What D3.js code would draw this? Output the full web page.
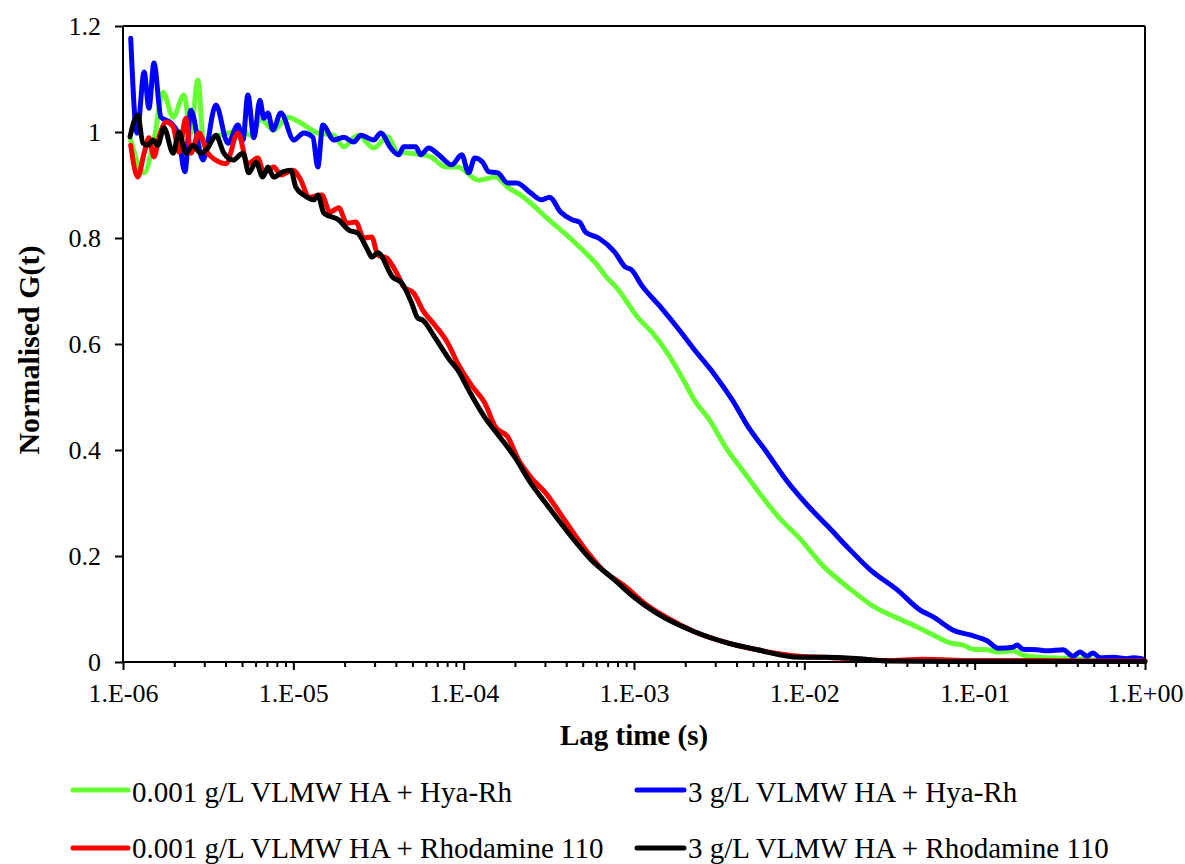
<!DOCTYPE html>
<html>
<head>
<meta charset="utf-8">
<script src="https://cdn.jsdelivr.net/npm/d3@7/dist/d3.min.js"></script>
<style>
  html, body { margin: 0; padding: 0; background: #fff; }
  svg { display: block; }
  svg text { font-family: 'Liberation Serif'; }
</style>
</head>
<body>
<svg id="chart" width="1185" height="864" font-family="Liberation Serif"></svg>
<script>
// ---------------- data ----------------
const seriesNames = [
  "0.001 g/L VLMW HA + Hya-Rh",
  "3 g/L VLMW HA + Hya-Rh",
  "0.001 g/L VLMW HA + Rhodamine 110",
  "3 g/L VLMW HA + Rhodamine 110"
];
const xTickValues = [1e-6, 1e-5, 1e-4, 1e-3, 1e-2, 1e-1, 1];
const xTickLabels = ["1.E-06", "1.E-05", "1.E-04", "1.E-03", "1.E-02", "1.E-01", "1.E+00"];
const yTickValues = [0, 0.2, 0.4, 0.6, 0.8, 1, 1.2];
const yTickLabels = ["0", "0.2", "0.4", "0.6", "0.8", "1", "1.2"];

// 0.001 g/L VLMW HA + Hya-Rh (green)
const greenLag = [1.11e-6,1.33e-6,1.52e-6,1.72e-6,1.97e-6,2.28e-6,2.50e-6,2.75e-6,2.99e-6,3.42e-6,4.13e-6,4.92e-6,5.63e-6,6.45e-6,7.68e-6,9.29e-6,
  1.107e-5,1.392e-5,1.728e-5,1.978e-5,2.389e-5,2.966e-5,3.584e-5,4.102e-5,4.888e-5,6.404e-5,7.843e-5,9.22e-5,
  1.225e-4,1.540e-4,1.812e-4,2.159e-4,2.472e-4,3.026e-4,3.912e-4,4.790e-4,5.196e-4,5.946e-4,6.899e-4,8.11e-4,8.916e-4,
  1.048e-3,1.284e-3,1.573e-3,1.952e-3,2.264e-3,2.773e-3,3.442e-3,4.448e-3,5.446e-3,7.039e-3,9.22e-3,
  1.310e-2,1.787e-2,2.574e-2,3.512e-2,4.60e-2,5.71e-2,7.18e-2,8.56e-2,9.80e-2,
  0.1184,0.1355,0.1682,0.1925,0.2422,0.3487,0.4955,0.7137,0.9603];
const greenG = [0.985,0.923,0.985,1.075,1.028,1.07,0.998,1.098,0.972,0.989,0.998,1.004,0.994,1.023,1.004,1.028,
  1.017,0.998,0.994,0.972,0.994,0.970,0.991,0.962,0.960,0.953,0.934,0.934,
  0.909,0.915,0.896,0.881,0.866,0.840,0.809,0.783,0.772,0.753,0.726,0.702,0.683,
  0.651,0.621,0.583,0.532,0.494,0.457,0.406,0.357,0.319,0.274,0.236,
  0.179,0.142,0.104,0.083,0.066,0.051,0.036,0.032,0.024,
  0.023,0.019,0.021,0.013,0.009,0.007,0.004,0.002,0.001];

// 3 g/L VLMW HA + Hya-Rh (blue)
const blueLag = [1.11e-6,1.21e-6,1.33e-6,1.42e-6,1.52e-6,1.67e-6,1.91e-6,2.10e-6,2.31e-6,2.50e-6,2.95e-6,3.51e-6,4.13e-6,4.73e-6,5.06e-6,5.41e-6,5.87e-6,6.36e-6,6.71e-6,7.09e-6,7.58e-6,8.45e-6,
  1.007e-5,1.152e-5,1.302e-5,1.392e-5,1.489e-5,1.728e-5,1.978e-5,2.263e-5,2.489e-5,2.966e-5,3.261e-5,3.731e-5,4.157e-5,4.447e-5,5.229e-5,5.595e-5,6.232e-5,7.135e-5,8.503e-5,9.734e-5,
  1.070e-4,1.160e-4,1.293e-4,1.402e-4,1.583e-4,1.812e-4,2.046e-4,2.472e-4,2.868e-4,3.195e-4,3.706e-4,4.358e-4,4.790e-4,5.196e-4,6.192e-4,7.683e-4,8.916e-4,9.667e-4,
  1.107e-3,1.430e-3,1.849e-3,2.264e-3,2.927e-3,3.782e-3,4.694e-3,6.067e-3,7.843e-3,
  1.070e-2,1.383e-2,1.787e-2,2.439e-2,3.512e-2,4.79e-2,5.71e-2,7.48e-2,9.41e-2,
  0.1184,0.1373,0.1682,0.1775,0.1925,0.2326,0.2663,0.3304,0.3782,0.4157,0.4569,0.4955,0.5447,0.6494,0.7844,0.8503,0.9603];
const blueG = [1.177,0.998,1.113,1.045,1.13,1.028,1.017,0.998,0.925,1.041,0.947,1.051,0.979,1.013,0.985,1.07,0.989,1.06,1.026,1.036,1.004,1.036,
  0.985,0.998,0.99,0.934,1.013,0.985,0.99,0.981,0.994,0.985,0.998,0.97,0.957,0.972,0.972,0.957,0.97,0.957,0.938,0.957,
  0.923,0.951,0.943,0.925,0.923,0.904,0.904,0.885,0.872,0.877,0.849,0.834,0.830,0.811,0.800,0.774,0.745,0.740,
  0.711,0.670,0.626,0.589,0.545,0.494,0.443,0.394,0.343,
  0.292,0.255,0.217,0.174,0.136,0.098,0.085,0.060,0.051,
  0.040,0.026,0.028,0.032,0.024,0.023,0.021,0.023,0.011,0.019,0.011,0.017,0.008,0.009,0.006,0.008,0.006];

// 0.001 g/L VLMW HA + Rhodamine 110 (red)
const redLag = [1.11e-6,1.22e-6,1.33e-6,1.42e-6,1.52e-6,1.63e-6,1.79e-6,1.97e-6,2.13e-6,2.34e-6,2.50e-6,2.79e-6,3.15e-6,3.51e-6,4.02e-6,4.73e-6,5.41e-6,6.19e-6,6.71e-6,7.68e-6,8.45e-6,9.93e-6,
  1.107e-5,1.233e-5,1.470e-5,1.637e-5,1.849e-5,2.060e-5,2.326e-5,2.591e-5,2.887e-5,3.131e-5,3.535e-5,4.046e-5,4.447e-5,5.091e-5,5.748e-5,6.761e-5,8.06e-5,9.22e-5,
  1.129e-4,1.328e-4,1.540e-4,1.812e-4,2.102e-4,2.472e-4,3.026e-4,3.912e-4,5.057e-4,6.535e-4,8.916e-4,
  1.152e-3,1.573e-3,2.264e-3,3.535e-3,5.30e-3,9.35e-3,
  1.328e-2,2.102e-2,2.987e-2,4.99e-2,0.1,0.25,0.5,1.0];
const redG = [0.975,0.915,0.96,0.989,0.953,0.991,1.019,1.01,0.962,1.026,0.960,0.998,0.96,0.947,0.94,0.998,0.94,0.951,0.923,0.934,0.919,0.928,
  0.909,0.877,0.881,0.849,0.857,0.828,0.830,0.800,0.802,0.768,0.762,0.734,0.708,0.696,0.664,0.636,0.602,0.564,
  0.519,0.489,0.443,0.425,0.381,0.349,0.319,0.268,0.217,0.174,0.142,
  0.111,0.083,0.057,0.036,0.023,0.011,
  0.009,0.005,0.003,0.005,0.003,0.003,0.002,0.002];

// 3 g/L VLMW HA + Rhodamine 110 (black)
const blackLag = [1.10e-6,1.22e-6,1.31e-6,1.40e-6,1.50e-6,1.60e-6,1.74e-6,1.97e-6,2.13e-6,2.34e-6,2.57e-6,2.87e-6,3.15e-6,3.51e-6,3.91e-6,4.42e-6,5.06e-6,5.48e-6,6.03e-6,6.62e-6,7.09e-6,7.68e-6,8.68e-6,9.67e-6,
  1.034e-5,1.152e-5,1.319e-5,1.392e-5,1.510e-5,1.849e-5,2.116e-5,2.389e-5,2.735e-5,2.887e-5,3.131e-5,3.833e-5,4.329e-5,4.955e-5,5.373e-5,5.748e-5,6.761e-5,8.28e-5,9.22e-5,
  1.070e-4,1.328e-4,1.626e-4,1.991e-4,2.472e-4,3.026e-4,4.129e-4,5.632e-4,7.683e-4,9.93e-4,
  1.355e-3,2.264e-3,3.535e-3,5.30e-3,9.35e-3,
  1.328e-2,2.102e-2,2.987e-2,7.18e-2,0.2422,1.0];
const blackG = [0.991,1.032,0.979,0.975,0.985,0.975,1.008,0.96,1.0,0.96,0.975,0.96,0.970,0.994,0.96,0.947,0.96,0.923,0.943,0.915,0.934,0.915,0.925,0.928,
  0.896,0.881,0.872,0.881,0.847,0.834,0.815,0.809,0.777,0.764,0.772,0.726,0.715,0.677,0.649,0.645,0.613,0.570,0.551,
  0.513,0.462,0.425,0.387,0.338,0.300,0.243,0.192,0.155,0.123,
  0.092,0.057,0.036,0.023,0.009,
  0.009,0.006,0.002,0.001,0.001,0.001];

const seriesColors = ["#66ff33", "#0000ff", "#ff0000", "#000000"];

// ---------------- chart ----------------
const svg = d3.select("#chart");
const L = 123, R = 1145, T = 26, B = 662;

const x = d3.scaleLog().domain([1e-6, 1]).range([L, R]);
const y = d3.scaleLinear().domain([0, 1.2]).range([B, T]);

const series = [
  {lag: greenLag, g: greenG},
  {lag: blueLag, g: blueG},
  {lag: redLag, g: redG},
  {lag: blackLag, g: blackG}
];

// frame (top and right)
svg.append("line").attr("x1", L).attr("x2", R).attr("y1", T).attr("y2", T)
  .attr("stroke", "#000").attr("stroke-width", 2);
svg.append("line").attr("x1", R).attr("x2", R).attr("y1", T).attr("y2", B)
  .attr("stroke", "#000").attr("stroke-width", 2);

// lines
const line = d3.line()
  .x(d => x(d[0]))
  .y(d => y(d[1]))
  .curve(d3.curveMonotoneX);

const plot = svg.append("g");
series.forEach((s, i) => {
  const pts = s.lag.map((t, k) => [t, s.g[k]]);
  plot.append("path")
    .datum(pts)
    .attr("d", line)
    .attr("fill", "none")
    .attr("stroke", seriesColors[i])
    .attr("stroke-width", 5)
    .attr("stroke-linejoin", "round")
    .attr("stroke-linecap", "round");
});

// minor tick values (2..9 per decade)
const minorTicks = [];
for (let e = -6; e < 0; e++) {
  for (let m = 2; m <= 9; m++) minorTicks.push(m * Math.pow(10, e));
}

function txt(sel, size, bold) {
  sel.attr("font-family", "Liberation Serif")
     .attr("font-size", size)
     .attr("font-weight", bold ? "bold" : "normal")
     .attr("fill", "#000");
}

// x axis
const xAxis = svg.append("g").attr("transform", `translate(0,${B})`)
  .call(d3.axisBottom(x).tickValues(xTickValues)
    .tickFormat((d, i) => xTickLabels[i]).tickSize(8).tickPadding(14));
xAxis.attr("font-family", "Liberation Serif").attr("font-size", 26);
xAxis.select(".domain").attr("stroke-width", 2).attr("d", `M${L},0H${R}`);
xAxis.selectAll(".tick line").attr("stroke-width", 2);
txt(xAxis.selectAll(".tick text"), 26, false);

const xMinor = svg.append("g").attr("transform", `translate(0,${B})`)
  .call(d3.axisBottom(x).tickValues(minorTicks).tickFormat("").tickSize(5));
xMinor.select(".domain").remove();
xMinor.selectAll(".tick line").attr("stroke-width", 2);

// y axis
const yAxis = svg.append("g").attr("transform", `translate(${L},0)`)
  .call(d3.axisLeft(y).tickValues(yTickValues)
    .tickFormat((d, i) => yTickLabels[i]).tickSize(8).tickPadding(14));
yAxis.attr("font-family", "Liberation Serif").attr("font-size", 26);
yAxis.select(".domain").attr("stroke-width", 2).attr("d", `M0,${B + 1}V${T}`);
yAxis.selectAll(".tick line").attr("stroke-width", 2);
txt(yAxis.selectAll(".tick text"), 26, false);

// axis titles
svg.append("text")
  .attr("x", (L + R) / 2).attr("y", 745)
  .attr("text-anchor", "middle")
  .call(txt, 29, true)
  .text("Lag time (s)");

svg.append("text")
  .attr("transform", `translate(39,${(T + B) / 2 + 6}) rotate(-90)`)
  .attr("text-anchor", "middle")
  .call(txt, 30, true)
  .text("Normalised G(t)");

// legend
const legendPos = [
  {lx: 73, tx: 132, ly: 790, ty: 802},
  {lx: 637, tx: 688, ly: 790, ty: 802},
  {lx: 73, tx: 132, ly: 848, ty: 858},
  {lx: 637, tx: 688, ly: 848, ty: 858}
];
seriesNames.forEach((name, i) => {
  const p = legendPos[i];
  svg.append("line")
    .attr("x1", p.lx).attr("x2", p.tx - 4)
    .attr("y1", p.ly).attr("y2", p.ly)
    .attr("stroke", seriesColors[i]).attr("stroke-width", 5)
    .attr("stroke-linecap", "round");
  svg.append("text")
    .attr("x", p.tx).attr("y", p.ty)
    .call(txt, 29, false)
    .text(name);
});
</script>
</body>
</html>
